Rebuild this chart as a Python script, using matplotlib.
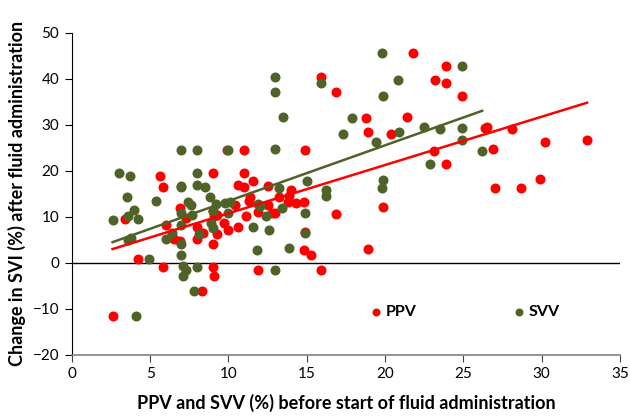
import matplotlib
matplotlib.use("Agg")
import matplotlib.pyplot as plt
import numpy as np

# PPV (red) data: baseline PPV (%) and change in SVI (%)
ppv_x = [2.6, 3.4, 4.2, 5.6, 5.8, 5.8, 6.0, 6.5, 6.9, 6.9, 7.3, 8.0, 8.0, 8.3, 8.4,
         9.0, 9.0, 9.0, 9.1, 9.0, 9.1, 9.3, 9.3, 9.7, 9.9, 10.0, 10.4, 10.6, 10.6,
         11.0, 11.0, 11.0, 11.1, 11.3, 11.4, 11.6, 11.9, 11.9, 12.5, 12.5, 12.8, 13.0,
         13.2, 13.8, 13.9, 14.0, 14.3, 14.8, 14.9, 14.9, 14.8, 15.3, 15.9, 15.9, 16.9,
         16.9, 18.8, 18.9, 18.9, 19.9, 20.4, 21.4, 21.8, 23.1, 23.2, 23.9, 23.9, 23.9,
         24.9, 26.4, 26.5, 26.9, 27.0, 28.1, 28.7, 29.9, 30.2, 32.9]
ppv_y = [-11.5, 9.5, 0.8, 18.9, 16.5, -0.8, 8.3, 5.1, 12.0, 4.8, 9.7, 5.1, 7.9, -6.1, 6.4,
         19.6, 4.1, -0.9, -2.8, 11.2, 10.1, 6.3, 10.4, 8.6, 24.6, 7.2, 12.6, 7.8, 17.0,
         24.6, 19.5, 16.5, 10.2, 13.5, 14.4, 17.9, 11.0, -1.5, 16.8, 12.6, 10.8, 10.9,
         14.4, 13.3, 14.6, 15.9, 13.1, 13.3, 24.6, 6.6, 2.7, 1.7, -1.5, 40.5, 37.1,
         10.6, 31.4, 28.5, 3.0, 12.2, 28.0, 31.7, 45.6, 24.4, 39.8, 42.9, 39.2, 21.5,
         36.2, 29.3, 29.6, 24.7, 16.2, 29.1, 16.2, 18.3, 26.2, 26.6]

# SVV (green) data
svv_x = [2.6, 3.0, 3.5, 3.6, 3.6, 3.7, 3.8, 4.0, 4.2, 4.1, 4.9, 5.4, 6.0, 6.4,
         7.0, 7.0, 7.0, 7.0, 7.0, 7.0, 7.0, 7.1, 7.3, 7.1, 7.4, 7.6, 7.7, 7.8,
         8.0, 8.0, 8.0, 8.0, 8.1, 8.5, 8.8, 8.9, 9.0, 9.0, 9.2, 9.8, 10.0, 10.1, 10.0,
         11.6, 11.8, 11.9, 12.0, 12.4, 12.6, 13.0, 13.0, 13.0, 13.0, 13.2, 13.4, 13.5,
         13.9, 14.9, 14.9, 15.0, 15.9, 16.2, 16.2, 17.3, 17.9, 19.4, 19.8, 19.8, 19.9,
         19.9, 20.8, 20.9, 22.5, 22.9, 23.5, 24.9, 24.9, 24.9, 26.2]
svv_y = [9.3, 19.6, 14.4, 10.1, 5.0, 18.9, 5.4, 11.5, 9.5, -11.5, 0.8, 13.4, 5.1, 6.4,
         24.6, 16.8, 16.4, 10.9, 8.3, 4.0, 1.7, -0.7, -1.5, -2.8, 13.2, 12.6, 10.4, -6.1,
         24.6, 19.6, 17.0, -1.0, 6.3, 16.5, 14.4, 8.6, 11.2, 7.5, 12.8, 13.1, 24.6, 13.3, 10.8,
         7.7, 2.8, 12.8, 12.3, 10.2, 7.2, 24.7, 40.5, 37.1, -1.5, 16.2, 12.0, 31.7,
         3.2, 10.9, 6.4, 17.9, 39.2, 15.9, 14.6, 28.0, 31.4, 26.2, 45.6, 16.2, 18.0,
         36.2, 39.8, 28.5, 29.6, 21.5, 29.1, 42.9, 29.4, 26.6, 24.4]

# Linear trend lines (slope, intercept)
ppv_trend = (1.05, 0.27)
svv_trend = (1.21, 1.35)

series_labels = ["PPV", "SVV"]
x_ticks = [0, 5, 10, 15, 20, 25, 30, 35]
y_ticks = [-20, -10, 0, 10, 20, 30, 40, 50]

RED = "#FF0000"
GREEN = "#4F6228"

plt.rcParams['font.family'] = ['Lato', 'DejaVu Sans']

fig = plt.figure(figsize=(6.3, 4.16), dpi=100)
ax = fig.add_axes([0.114, 0.147, 0.870, 0.774])

ax.scatter(ppv_x, ppv_y, s=52, color=RED, linewidths=0, zorder=3, label=series_labels[0])
ax.scatter(svv_x, svv_y, s=52, color=GREEN, linewidths=0, zorder=3, label=series_labels[1])

for xs, (m, b), c in [(ppv_x, ppv_trend, RED), (svv_x, svv_trend, GREEN)]:
    xx = np.array([min(xs), max(xs)])
    ax.plot(xx, m * xx + b, color=c, lw=1.8, zorder=4)

ax.axhline(0, color='black', lw=1.0, zorder=2)

ax.set_xlim(0, 35)
ax.set_ylim(-20, 50)
ax.set_xticks(x_ticks)
ax.set_yticks(y_ticks)
ax.tick_params(axis='both', direction='out', length=5, width=0.8, labelsize=11,
               colors='black', pad=4)
ax.tick_params(axis='x', colors='#404040', labelcolor='black')
for s in ['top', 'right']:
    ax.spines[s].set_visible(False)
ax.spines['left'].set_color('black')
ax.spines['bottom'].set_color('#808080')
ax.spines['bottom'].set_linewidth(1.2)

ax.set_xlabel("PPV and SVV (%) before start of fluid administration",
              fontsize=13, fontweight='bold', labelpad=9)
ax.set_ylabel("Change in SVI (%) after fluid administration",
              fontsize=13, fontweight='bold', labelpad=5)

leg = ax.legend(loc='center left', bbox_to_anchor=(0.52, 0.134), ncol=2, frameon=False,
                handlelength=0.6, handletextpad=0.3, columnspacing=6.1,
                markerscale=0.8, prop={'weight': 'bold', 'size': 11.5})

fig.savefig("out.png", dpi=100)
